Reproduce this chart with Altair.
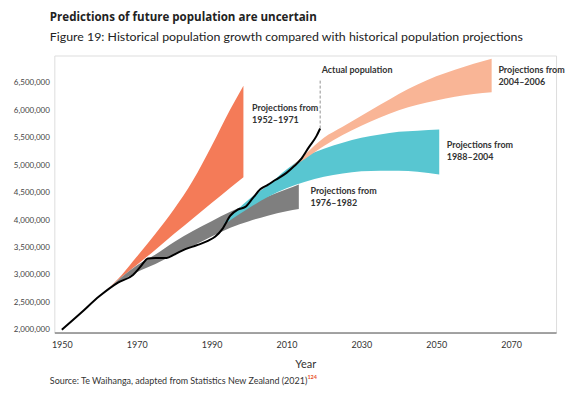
import altair as alt
import pandas as pd

# ---- data (population in millions) ----
actual_year = [1950, 1955, 1960, 1965, 1969, 1971, 1973, 1975, 1978, 1980, 1983, 1986, 1989,
               1991, 1993, 1995, 1997, 1999, 2001, 2003, 2005, 2007, 2010, 2012, 2014, 2016, 2018, 2019]
actual_pop = [2.00, 2.30, 2.61, 2.86, 3.00, 3.15, 3.30, 3.31, 3.31, 3.37, 3.47, 3.54, 3.62,
              3.70, 3.85, 4.08, 4.19, 4.24, 4.40, 4.56, 4.64, 4.73, 4.86, 4.98, 5.12, 5.33, 5.53, 5.67]

orange_year = [1962, 1966, 1970, 1975, 1980, 1985, 1990, 1995, 1998.5]
orange_low = [2.73, 2.96, 3.18, 3.46, 3.75, 4.03, 4.31, 4.59, 4.78]
orange_high = [2.73, 3.00, 3.33, 3.75, 4.20, 4.72, 5.35, 6.02, 6.45]

gray_year = [1963, 1966, 1970, 1975, 1980, 1985, 1990, 1995, 2000, 2005, 2010, 2013.3]
gray_low = [2.78, 2.90, 3.05, 3.20, 3.37, 3.53, 3.70, 3.86, 3.98, 4.08, 4.16, 4.20]
gray_high = [2.78, 2.96, 3.17, 3.37, 3.60, 3.80, 3.98, 4.15, 4.30, 4.43, 4.56, 4.65]

teal_year = [1993.5, 2000, 2005, 2010, 2015, 2020, 2025, 2030, 2035, 2040, 2045, 2050.8]
teal_low = [3.93, 4.22, 4.42, 4.58, 4.70, 4.79, 4.85, 4.89, 4.90, 4.90, 4.88, 4.83]
teal_high = [3.96, 4.38, 4.63, 4.92, 5.16, 5.30, 5.41, 5.50, 5.56, 5.61, 5.63, 5.65]

salmon_year = [2011, 2015, 2020, 2025, 2030, 2035, 2040, 2045, 2050, 2055, 2060, 2064.8]
salmon_low = [4.95, 5.12, 5.35, 5.55, 5.72, 5.87, 6.00, 6.10, 6.18, 6.25, 6.30, 6.33]
salmon_high = [4.95, 5.20, 5.50, 5.70, 5.90, 6.10, 6.30, 6.47, 6.62, 6.74, 6.85, 6.94]

ann_text = ["Projections from\n1952–1971", "Projections from\n1976–1982",
            "Projections from\n2004–2006", "Projections from\n1988–2004", "Actual population"]
ann_year = [2000.8, 2016.4, 2066.6, 2052.8, 2019.4]
ann_pop = [6.11, 4.60, 6.80, 5.44, 6.80]

x_ticks = [1950, 1970, 1990, 2010, 2030, 2050, 2070]
y_ticks = [2000000, 2500000, 3000000, 3500000, 4000000, 4500000, 5000000, 5500000, 6000000, 6500000]

TITLE = "Predictions of future population are uncertain"
SUBTITLE = "Figure 19: Historical population growth compared with historical population projections"
SOURCE = "Source: Te Waihanga, adapted from Statistics New Zealand (2021)"
SUP = "124"

FONT = "Lato"
M = 1_000_000

def band(years, low, high):
    return pd.DataFrame({"year": years, "low": [v * M for v in low], "high": [v * M for v in high]})

actual_df = pd.DataFrame({"year": actual_year, "pop": [v * M for v in actual_pop]})
ann_df = pd.DataFrame({"t": ann_text, "year": ann_year, "pop": [v * M for v in ann_pop]})
lead_df = pd.DataFrame({"year": [actual_year[-1]], "y1": [actual_pop[-1] * M], "y2": [6.55 * M]})

xscale = alt.Scale(domain=[1948, 2082], nice=False, zero=False)
yscale = alt.Scale(domain=[1.95 * M, 7.0 * M], nice=False, zero=False)

xaxis = alt.Axis(values=x_ticks, format="d", title="Year", grid=False, ticks=False,
                 domainColor="#555555", domainWidth=1, labelFont=FONT, labelFontSize=9,
                 labelColor="#333333", labelPadding=8, titleFont=FONT, titleFontSize=11,
                 titleFontWeight="normal", titleColor="#333333", titlePadding=9)
yaxis = alt.Axis(values=y_ticks, labelExpr="format(datum.value, ',d')", title=None, grid=False,
                 ticks=False, domain=False, labelFont=FONT, labelFontSize=8,
                 labelColor="#444444", labelPadding=5)


def X(field):
    return alt.X(field, scale=xscale, axis=xaxis)


def Y(field):
    return alt.Y(field, scale=yscale, axis=yaxis)


def area_layer(df, color):
    return alt.Chart(df).mark_area(color=color, opacity=1, interpolate="monotone").encode(
        x=X("year:Q"), y=Y("low:Q"), y2="high:Q")


orange = area_layer(band(orange_year, orange_low, orange_high), "#F47B58")
gray = area_layer(band(gray_year, gray_low, gray_high), "#7F7F7F")
teal = area_layer(band(teal_year, teal_low, teal_high), "#58C6D1")
salmon = area_layer(band(salmon_year, salmon_low, salmon_high), "#F9B596")

line = alt.Chart(actual_df).mark_line(color="#000000", strokeWidth=2, interpolate="monotone").encode(
    x=X("year:Q"), y=Y("pop:Q"))

lead = alt.Chart(lead_df).mark_rule(color="#777777", strokeWidth=0.8, strokeDash=[3, 2]).encode(
    x=X("year:Q"), y=Y("y1:Q"), y2="y2:Q")

ann = alt.Chart(ann_df).mark_text(align="left", baseline="top", font=FONT, fontSize=9,
                                  fontWeight="bold", color="#333333", lineBreak="\n",
                                  lineHeight=12).encode(
    x=X("year:Q"), y=Y("pop:Q"), text="t:N")

source = alt.Chart(pd.DataFrame({"t": [SOURCE]})).mark_text(
    align="left", baseline="middle", font=FONT, fontSize=9, color="#333333").encode(
    x=alt.value(-4.5), y=alt.value(327), text="t:N")
sup = alt.Chart(pd.DataFrame({"t": [SUP]})).mark_text(
    align="left", baseline="middle", font=FONT, fontSize=5.5, fontWeight="bold", color="#E8532C").encode(
    x=alt.value(254), y=alt.value(323), text="t:N")

chart = alt.layer(orange, gray, teal, salmon, line, lead, ann, source, sup).properties(
    width=503.5,
    height=278,
    padding={"left": 46.5, "top": 47, "right": 14, "bottom": 53},
    autosize=alt.AutoSizeParams(type="none"),
    title=alt.TitleParams(text=TITLE, subtitle=SUBTITLE, anchor="start", frame="group", dx=-4.5,
                          offset=12, font="Open Sans", fontSize=11.6, fontWeight="bold",
                          color="#222222", subtitleFont=FONT, subtitleFontSize=12.4,
                          subtitleColor="#222222", subtitlePadding=8),
).configure_view(stroke=None).configure(background="white")

chart.save("out.html", embed_options={"renderer": "svg", "actions": False})
